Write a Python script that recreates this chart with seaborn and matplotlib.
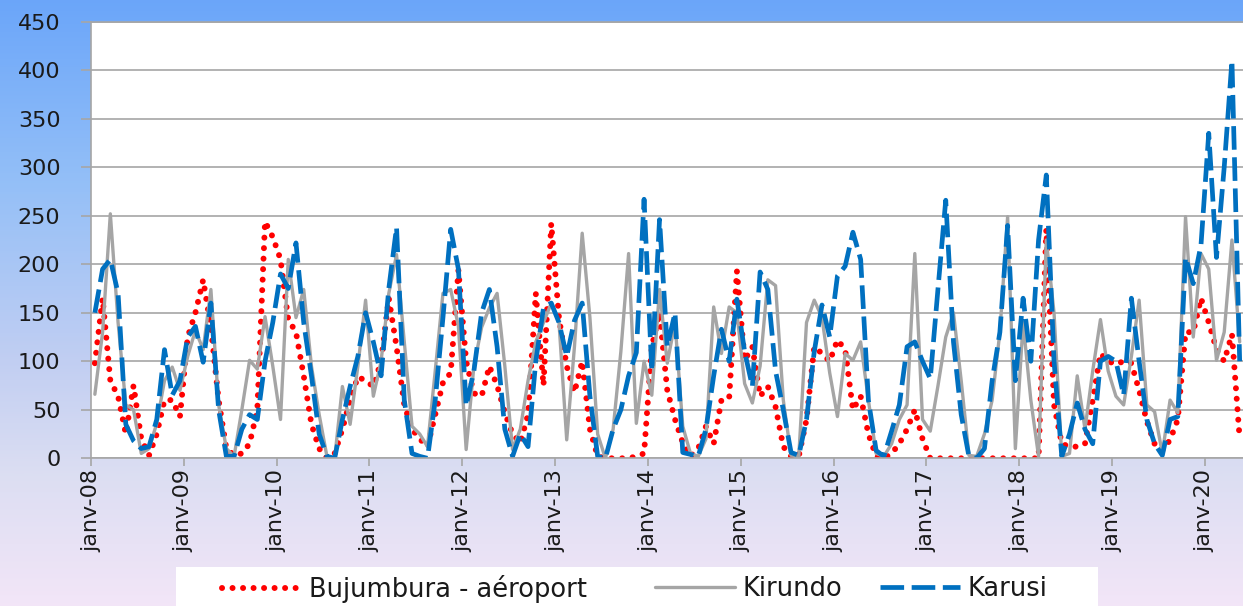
import numpy as np
import pandas as pd
import matplotlib
matplotlib.use("Agg")
import matplotlib.pyplot as plt
import seaborn as sns
from matplotlib.colors import LinearSegmentedColormap
from matplotlib.patches import Rectangle
from matplotlib.lines import Line2D

# ---------------- data (monthly rainfall, mm) ----------------
year_labels = ["janv-08", "janv-09", "janv-10", "janv-11", "janv-12", "janv-13",
               "janv-14", "janv-15", "janv-16", "janv-17", "janv-18", "janv-19",
               "janv-20"]

series_names = ["Bujumbura - aéroport", "Kirundo", "Karusi"]

bujumbura = [
    98, 165, 80, 64, 25, 75, 20, 3, 25, 60, 60, 43,          # 2008
    125, 150, 184, 135, 60, 10, 3, 5, 15, 50, 244, 228,      # 2009
    205, 143, 130, 85, 35, 10, 0, 5, 30, 60, 84, 80,         # 2010
    74, 100, 165, 115, 55, 30, 20, 12, 45, 78, 88, 194,      # 2011
    100, 67, 64, 95, 75, 47, 25, 16, 45, 170, 75, 242,       # 2012
    145, 95, 68, 100, 30, 2, 0, 0, 0, 0, 2, 5,               # 2013
    115, 150, 70, 40, 16, 2, 10, 33, 15, 60, 62, 193,        # 2014
    101, 115, 64, 74, 53, 12, 2, 2, 40, 115, 108, 100,       # 2015
    122, 112, 50, 64, 25, 2, 0, 5, 15, 30, 50, 20,           # 2016
    0, 0, 0, 0, 0, 0, 0, 0, 0, 0, 0, 0,                      # 2017
    0, 0, 0, 236, 55, 15, 12, 12, 15, 60, 108, 100,          # 2018
    97, 100, 98, 70, 38, 15, 8, 19, 40, 130, 130, 165,       # 2019
    140, 112, 100, 128, 20,                                  # 2020
]

kirundo = [
    66, 130, 252, 140, 55, 50, 5, 10, 36, 80, 94, 70,
    105, 132, 112, 174, 55, 10, 2, 50, 101, 92, 146, 95,
    40, 205, 145, 174, 95, 45, 2, 0, 74, 35, 95, 163,
    64, 100, 170, 210, 120, 33, 25, 12, 90, 170, 174, 136,
    9, 95, 135, 155, 170, 95, 9, 30, 80, 120, 140, 160,
    140, 19, 115, 232, 145, 25, 0, 30, 110, 211, 36, 100,
    65, 174, 98, 140, 33, 5, 2, 20, 156, 108, 156, 150,
    77, 57, 95, 184, 178, 60, 3, 2, 140, 163, 145, 88,
    43, 108, 101, 120, 60, 5, 2, 15, 40, 55, 211, 40,
    28, 75, 125, 150, 80, 3, 2, 25, 60, 130, 249, 10,
    140, 60, 2, 225, 150, 2, 5, 85, 30, 90, 143, 90,
    64, 55, 105, 163, 55, 48, 5, 60, 47, 249, 125, 211,
    195, 101, 130, 225, 120,
]

karusi = [
    150, 195, 205, 170, 35, 18, 10, 12, 40, 112, 65, 80,
    125, 136, 99, 160, 50, 2, 2, 30, 45, 40, 100, 140,
    190, 175, 222, 140, 85, 25, 2, 0, 40, 74, 105, 150,
    120, 85, 175, 238, 60, 5, 2, 0, 60, 145, 236, 195,
    54, 90, 150, 174, 115, 30, 2, 25, 12, 100, 155, 160,
    140, 105, 142, 160, 64, 2, 0, 30, 50, 85, 109, 267,
    90, 246, 115, 150, 6, 4, 2, 30, 85, 133, 100, 164,
    110, 74, 192, 174, 90, 50, 6, 3, 40, 110, 158, 125,
    188, 198, 233, 205, 60, 8, 2, 28, 55, 115, 120, 100,
    82, 175, 266, 120, 45, 2, 0, 10, 80, 130, 240, 80,
    165, 100, 225, 292, 100, 2, 25, 57, 30, 15, 100, 105,
    100, 65, 165, 100, 40, 15, 3, 40, 43, 207, 180, 220,
    335, 207, 300, 410, 100,
]

months = np.arange(len(karusi))
df = pd.DataFrame({"month": months,
                   series_names[0]: bujumbura,
                   series_names[1]: kirundo,
                   series_names[2]: karusi})

# ---------------- style ----------------
sns.set_theme(style="white")
plt.rcParams['font.family'] = ['DejaVu Sans']

W, H = 1243, 606
fig = plt.figure(figsize=(W / 100, H / 100), dpi=100)

# background gradient (blue top -> lavender/pink bottom)
bg_cmap = LinearSegmentedColormap.from_list(
    "bg", [(0.0, (0.42, 0.65, 0.98)),
           (0.30, (0.58, 0.75, 0.97)),
           (0.60, (0.76, 0.81, 0.95)),
           (0.78, (0.86, 0.87, 0.95)),
           (1.0, (0.95, 0.90, 0.97))])
bg = fig.add_axes([0, 0, 1, 1], zorder=-10)
grad = np.linspace(0, 1, 400).reshape(-1, 1)
bg.imshow(grad, aspect="auto", cmap=bg_cmap, extent=[0, 1, 0, 1], origin="upper")
bg.set_axis_off()

ax = fig.add_axes([91 / W, (H - 458.3) / H, (W - 91) / W, 436.6 / H])
ax.set_facecolor("white")

red = "#ff0000"
grey = "#a5a5a5"
blue = "#0070c0"
red_ls = (0, (0.01, 1.75))
blue_ls = (0, (5, 1.6))

sns.lineplot(data=df, x="month", y=series_names[0], ax=ax, color=red, lw=4.3,
             linestyle=red_ls, dash_capstyle="round", errorbar=None)
sns.lineplot(data=df, x="month", y=series_names[1], ax=ax, color=grey, lw=2.4,
             errorbar=None)
sns.lineplot(data=df, x="month", y=series_names[2], ax=ax, color=blue, lw=3.4,
             linestyle=blue_ls, errorbar=None)

x_right = (W - 94.9) / 7.735
ax.set_xlim(-0.5, x_right)
ax.set_ylim(0, 450)
ax.set_yticks(np.arange(0, 451, 50))
ax.set_xticks(np.arange(-0.5, 145, 12))
ax.set_xticklabels(year_labels, rotation=90)
ax.set_xlabel("")
ax.set_ylabel("")

ax.yaxis.grid(True, color="#a6a6a6", lw=1.2)
ax.xaxis.grid(False)
for s in ["left", "bottom", "top"]:
    ax.spines[s].set_visible(True)
    ax.spines[s].set_color("#a6a6a6")
    ax.spines[s].set_linewidth(1.2)
ax.spines["right"].set_visible(False)

ax.tick_params(axis="y", which="major", length=7, width=1.2, color="#a6a6a6",
               direction="out", pad=15, labelsize=16, labelcolor="#1a1a1a", left=True)
ax.tick_params(axis="x", which="major", length=6, width=1.2, color="#a6a6a6",
               direction="out", pad=2, labelsize=16, labelcolor="#1a1a1a", bottom=True)

# legend box (white) at bottom
fig.patches.append(Rectangle((176 / W, 0), (1098 - 176) / W, (H - 567) / H,
                             transform=fig.transFigure, facecolor="white",
                             edgecolor="none", zorder=5))
handles = [Line2D([], [], color=red, lw=4.3, linestyle=red_ls,
                  dash_capstyle="round"),
           Line2D([], [], color=grey, lw=2.4),
           Line2D([], [], color=blue, lw=3.4, linestyle=blue_ls)]
handle_x = [222, 655, 880]
for h, name, hx in zip(handles, series_names, handle_x):
    leg = fig.legend([h], [name], loc="center left",
                     bbox_to_anchor=(hx / W, (H - 589) / H), frameon=False,
                     fontsize=18.5, handlelength=3.1, handletextpad=0.3,
                     borderpad=0, borderaxespad=0)
    leg.set_zorder(6)
    for t in leg.get_texts():
        t.set_color("#1a1a1a")

fig.savefig("out.png", dpi=100)
